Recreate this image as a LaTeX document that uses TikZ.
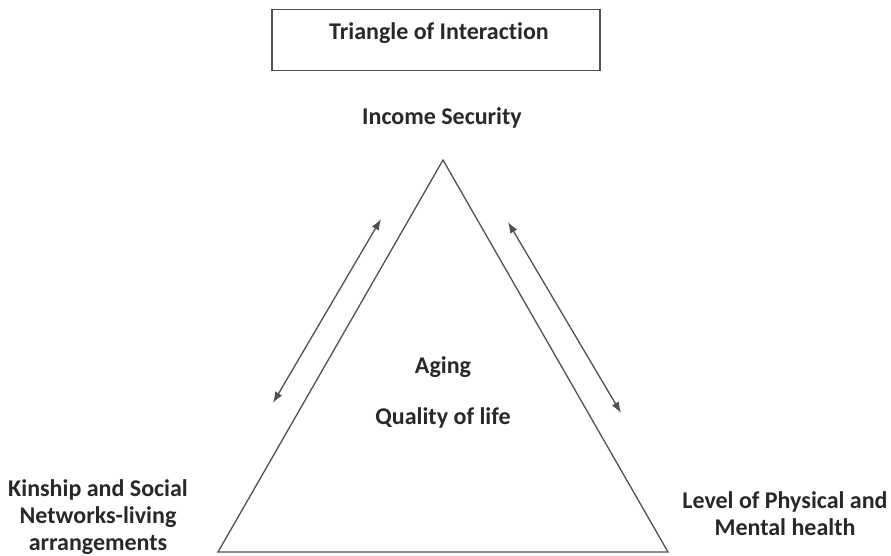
\documentclass[tikz,border=0pt]{standalone}
\usepackage{fontspec}
\setmainfont{Carlito}[Ligatures=NoCommon]
\usetikzlibrary{arrows,arrows.meta}
\definecolor{ln}{RGB}{80,80,80}
\definecolor{tx}{RGB}{40,40,40}
\begin{document}
\begin{tikzpicture}[x=1pt,y=-1pt,line width=1.3pt,
	lbl/.style={text=tx,font=\fontsize{24}{27}\selectfont\bfseries,align=center,inner sep=0pt},
	dbl/.style={ln,{Latex[length=11pt,width=8pt]}-{Latex[length=11pt,width=8pt]}}]
	\useasboundingbox (0,0) rectangle (891,555);
	\node[draw=ln,line width=1.4pt,minimum width=328pt,minimum height=61pt,inner sep=0pt] (box) at (436,40) {};
	\node[lbl] (title) at (439,33) {Triangle of Interaction};
	\node[lbl] (inc) at (442,118) {Income Security};
	\coordinate (A) at (443,160);
	\coordinate (B) at (218,552);
	\coordinate (C) at (668,552);
	\draw[ln] (A)--(B)--(C)--cycle;
	\node[lbl] (aging) at (443,367) {Aging};
	\node[lbl] (qol) at (443,418) {Quality of life};
	\node[lbl] (kin) at (98,517) {Kinship and Social\\Networks-living\\arrangements};
	\node[lbl] (lev) at (785,514) {Level of Physical and\\Mental health};
	\coordinate (l1) at (273,403);
	\coordinate (l2) at (381,219);
	\coordinate (r1) at (508,222);
	\coordinate (r2) at (621,413);
	\draw[dbl] (l1)--(l2);
	\draw[dbl] (r1)--(r2);
\end{tikzpicture}
\end{document}
